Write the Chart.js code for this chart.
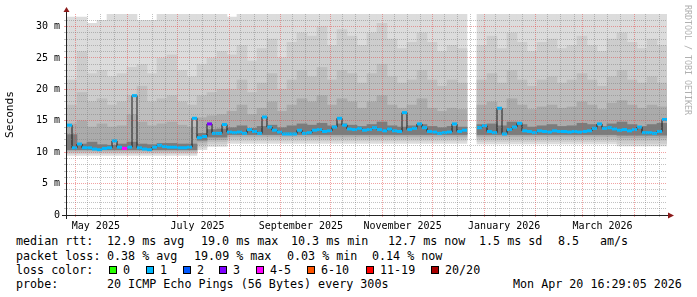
<!DOCTYPE html>
<html>
<head>
<meta charset="utf-8">
<script src="https://cdn.jsdelivr.net/npm/chart.js@4"></script>
<style>
  body { margin: 0; background: #fff; }
  #wrap { position: relative; width: 697px; height: 297px; overflow: hidden;
          font-family: 'DejaVu Sans Mono', monospace; color: #000; }
  #wrap canvas { position: absolute; left: 0; top: 0; }
  .t { position: absolute; font-size: 11.7px; line-height: 14px; white-space: pre; }
  .box { position: absolute; width: 6px; height: 6px; border: 1px solid #000; }
  #rrd { position: absolute; left: 683px; top: 5px; writing-mode: vertical-rl;
         font-size: 8.3px; line-height: 10px; color: #b0b0b0; white-space: pre; }
</style>
</head>
<body>
<div id="wrap">
  <canvas id="myChart" width="697" height="232"></canvas>
  <div id="rrd">RRDTOOL / TOBI OETIKER</div>

  <div class="t" style="left:16px;top:234px">median rtt:</div>
  <div class="t" style="left:107px;top:234px">12.9 ms avg</div>
  <div class="t" style="left:201px;top:234px">19.0 ms max</div>
  <div class="t" style="left:291px;top:234px">10.3 ms min</div>
  <div class="t" style="left:388px;top:234px">12.7 ms now</div>
  <div class="t" style="left:479px;top:234px">1.5 ms sd</div>
  <div class="t" style="left:558px;top:234px">8.5</div>
  <div class="t" style="left:600px;top:234px">am/s</div>

  <div class="t" style="left:16px;top:248.5px">packet loss:</div>
  <div class="t" style="left:107px;top:248.5px">0.38 % avg</div>
  <div class="t" style="left:194px;top:248.5px">19.09 % max</div>
  <div class="t" style="left:287px;top:248.5px">0.03 % min</div>
  <div class="t" style="left:372px;top:248.5px">0.14 % now</div>

  <div class="t" style="left:16px;top:262.5px">loss color:</div>
  <div id="lossLegend"></div>

  <div class="t" style="left:16px;top:276.5px">probe:</div>
  <div class="t" style="left:107px;top:276.5px">20 ICMP Echo Pings (56 Bytes) every 300s</div>
  <div class="t" style="left:513px;top:276.5px">Mon Apr 20 16:29:05 2026</div>
</div>
<script>
const MONO = "'DejaVu Sans Mono', monospace";

// time range: last 360 days up to the graph time
const END = Date.UTC(2026, 3, 20, 16, 29, 5);
const SPAN_DAYS = 360;
const START = END - SPAN_DAYS * 864e5;

// month grid / labels
const gridMonths = [[2025, 4], [2025, 5], [2025, 6], [2025, 7], [2025, 8], [2025, 9],
  [2025, 10], [2025, 11], [2026, 0], [2026, 1], [2026, 2], [2026, 3]];
const minorDays = [8, 16, 24];
const labelMonths = [[2025, 4], [2025, 6], [2025, 8], [2025, 10], [2026, 0], [2026, 2]];
const monthLabels = ["May 2025", "July 2025", "September 2025", "November 2025", "January 2026", "March 2026"];
const LABEL_SHIFT = 12; // rrdtool centres the month label inside the month

// median rtt in ms, one value per 3 days (null = no data)
const MED_STEP = 3;
const median = [
  14.3, 10.7, 11.3, 10.7, 10.7, 10.5, 10.4, 10.6, 10.7, 11.8,
  10.8, 10.6, 10.8, 19.0, 10.7, 10.5, 10.4, 10.8, 11.1, 10.9,
  10.8, 10.8, 10.7, 10.7, 10.8, 15.4, 12.3, 12.5, 14.5, 13.0,
  13.0, 14.4, 13.2, 13.1, 13.2, 13.0, 13.6, 13.3, 13.0, 15.6,
  14.0, 13.5, 13.2, 12.9, 12.9, 12.9, 13.5, 13.0, 13.1, 13.5,
  13.6, 13.3, 13.4, 14.0, 15.4, 14.3, 13.7, 13.6, 13.8, 13.5,
  13.6, 13.9, 13.6, 13.4, 13.7, 13.4, 13.3, 16.3, 13.6, 13.8,
  14.5, 13.9, 13.3, 13.2, 13.0, 13.1, 13.2, 14.5, 13.3, 13.5,
  null, null, 13.9, 14.2, 13.3, 13.1, 17.0, 12.9, 13.6, 14.0,
  14.6, 13.4, 13.3, 13.1, 13.4, 13.3, 13.2, 13.4, 13.3, 13.3,
  13.2, 13.3, 13.2, 13.3, 13.4, 13.8, 14.5, 13.8, 13.9, 13.7,
  13.5, 13.6, 13.4, 13.6, 14.0, 13.1, 13.1, 13.0, 13.3, 15.2
];
// bins whose loss count is not 1/20
const lossBins = [11, 28];
const lossCounts = [5, 3];

// smoke bands in ms, one value per 6 days: lo/hi of each band, A = widest
const SMOKE_STEP = 6;
const hiA = [
  31.5, 31.5, 30.5, 31.0, 32, 32, 32, 31.0, 31.0, 32, 32, 32, 32, 32, 32, 32,
  31.5, 32, 32, 32, 32, 32, 32, 32, 32, 32, 32, 32, 32, 32, 32, 32, 32, 32, 32, 32, 32, 32, 32, 32,
  null,
  32, 32, 32, 32, 32, 32, 32, 32, 32, 32, 32, 32, 32, 32, 32, 32, 32, 32, 32
];
const hiB = [
  21.5, 26.0, 22.5, 23.0, 22.0, 22.5, 23.5, 24.0, 22.5, 25.0, 25.5, 23.0, 22.0,
  24.0, 25.0, 26.0,
  25.5, 27.0, 24.5, 26.5, 28.0, 25.0, 27.5, 29.0, 28.5, 30.0, 27.0, 29.5,
  28.5, 27.0, 29.0, 30.5, 28.0, 26.5, 27.5, 29.0, 27.5, 26.0, 27.0, 26.5,
  null,
  27.0, 28.5, 26.5, 29.0, 27.5, 26.0, 27.5, 28.0, 26.5, 27.0, 28.5, 27.0, 26.0, 28.0, 29.0, 27.5, 26.5, 28.0, 27.0
];
const hiC = [
  17.5, 19.5, 18.0, 18.5, 17.5, 18.0, 19.0, 20.5, 18.0, 18.5, 19.0, 18.0, 17.5,
  19.0, 19.5, 20.0,
  20.0, 21.5, 19.5, 21.0, 22.5, 20.0, 21.5, 23.0, 22.0, 23.5, 21.5, 23.0,
  22.5, 21.0, 22.5, 24.0, 22.0, 21.0, 21.5, 23.0, 21.5, 20.5, 21.5, 21.0,
  null,
  21.5, 22.5, 21.0, 23.0, 21.5, 20.5, 21.5, 22.0, 21.0, 21.5, 22.5, 21.5, 20.5, 22.0, 23.0, 21.5, 21.0, 22.0, 21.0
];
const hiD = [
  14.5, 15.0, 14.0, 14.5, 14.0, 14.2, 16.0, 14.8, 14.2, 14.5, 14.8, 14.3, 14.0,
  15.5, 15.8, 16.0,
  16.5, 17.5, 16.0, 17.0, 18.0, 16.5, 17.5, 18.5, 18.0, 19.0, 17.5, 18.5,
  18.0, 17.0, 18.0, 19.0, 17.5, 17.0, 17.5, 18.5, 17.0, 16.5, 17.0, 16.8,
  null,
  17.5, 18.0, 17.0, 18.5, 17.5, 16.8, 17.2, 17.5, 17.0, 17.2, 18.0, 17.5, 16.8, 17.8, 18.2, 17.5, 17.0, 17.5, 17.2
];
const hiE = [
  12.8, 11.3, 11.6, 11.2, 11.1, 11.3, 11.6, 11.3, 11.2, 11.4, 11.4, 11.3, 11.3,
  13.0, 13.6, 13.7,
  13.9, 14.2, 13.8, 14.1, 14.3, 13.9, 14.2, 14.5, 14.3, 14.6, 14.2, 14.5,
  14.3, 14.1, 14.4, 14.8, 14.2, 14.0, 14.2, 14.4, 14.1, 13.9, 14.1, 14.0,
  null,
  14.4, 14.5, 14.2, 14.8, 14.4, 14.0, 14.2, 14.4, 14.1, 14.2, 14.6, 14.4, 14.1, 14.5, 14.8, 14.4, 14.1, 14.4, 14.6
];
const loA = [
  9.5, 9.5, 9.5, 9.5, 9.5, 9.5, 9.5, 9.5, 9.5, 9.5, 9.5, 9.5, 9.5,
  10.4, 10.9, 10.9,
  11.4, 11.4, 11.4, 11.4, 11.4, 11.4, 11.4, 11.4, 11.4, 11.4, 11.4, 11.4,
  11.4, 11.4, 11.4, 11.4, 11.4, 11.4, 11.4, 11.4, 11.4, 11.4, 11.4, 11.4,
  null,
  11.3, 11.3, 11.3, 11.3, 11.3, 11.3, 11.3, 11.3, 11.3, 11.3, 11.3, 11.3, 11.3, 11.3, 11.0, 11.0, 11.0, 11.0, 11.0
];
const loB = [
  9.8, 9.8, 9.8, 9.8, 9.8, 9.8, 9.8, 9.8, 9.8, 9.8, 9.8, 9.8, 9.8,
  10.8, 11.3, 11.3,
  11.8, 11.8, 11.8, 11.8, 11.8, 11.8, 11.8, 11.8, 11.8, 11.8, 11.8, 11.8,
  11.8, 11.8, 11.8, 11.8, 11.8, 11.8, 11.8, 11.8, 11.8, 11.8, 11.8, 11.8,
  null,
  11.7, 11.7, 11.7, 11.7, 11.7, 11.7, 11.7, 11.7, 11.7, 11.7, 11.7, 11.7, 11.7, 11.7, 11.4, 11.4, 11.4, 11.4, 11.4
];
const loC = [
  10.0, 10.0, 10.0, 10.0, 10.0, 10.0, 10.0, 10.0, 10.0, 10.0, 10.0, 10.0, 10.0,
  11.2, 11.7, 11.7,
  12.2, 12.2, 12.2, 12.2, 12.2, 12.2, 12.2, 12.2, 12.2, 12.2, 12.2, 12.2,
  12.2, 12.2, 12.2, 12.2, 12.2, 12.2, 12.2, 12.2, 12.2, 12.2, 12.2, 12.2,
  null,
  12.1, 12.1, 12.1, 12.1, 12.1, 12.1, 12.1, 12.1, 12.1, 12.1, 12.1, 12.1, 12.1, 12.1, 11.9, 11.9, 11.9, 11.9, 11.9
];
const loD = [
  10.2, 10.2, 10.2, 10.2, 10.2, 10.2, 10.2, 10.2, 10.2, 10.2, 10.2, 10.2, 10.2,
  11.6, 12.0, 12.0,
  12.5, 12.5, 12.5, 12.5, 12.5, 12.5, 12.5, 12.5, 12.5, 12.5, 12.5, 12.5,
  12.5, 12.5, 12.5, 12.5, 12.5, 12.5, 12.5, 12.5, 12.5, 12.5, 12.5, 12.5,
  null,
  12.5, 12.5, 12.5, 12.5, 12.5, 12.5, 12.5, 12.5, 12.5, 12.5, 12.5, 12.5, 12.5, 12.5, 12.3, 12.3, 12.3, 12.3, 12.3
];
const loE = [
  10.4, 10.4, 10.4, 10.4, 10.4, 10.4, 10.4, 10.4, 10.4, 10.4, 10.4, 10.4, 10.4,
  11.9, 12.4, 12.4,
  12.8, 12.8, 12.8, 12.8, 12.8, 12.8, 12.8, 12.8, 12.8, 12.8, 12.8, 12.8,
  12.8, 12.8, 12.8, 12.8, 12.8, 12.8, 12.8, 12.8, 12.8, 12.8, 12.8, 12.8,
  null,
  12.8, 12.8, 12.8, 12.8, 12.8, 12.8, 12.8, 12.8, 12.8, 12.8, 12.8, 12.8, 12.8, 12.8, 12.7, 12.7, 12.7, 12.7, 12.7
];

// loss color legend
const lossNames = ["0", "1", "2", "3", "4-5", "6-10", "11-19", "20/20"];
const lossColors = ["#26ff00", "#00b8ff", "#0059ff", "#7e00ff", "#ff00ff", "#ff5500", "#ff0000", "#a80000"];
const lossMax = [0, 1, 2, 3, 5, 10, 19, 20];

const legendBoxX = [109, 146, 183, 219, 256, 307, 366, 431];
const legend = document.getElementById("lossLegend");
lossNames.forEach((name, i) => {
  const b = document.createElement("div");
  b.className = "box";
  b.style.left = legendBoxX[i] + "px";
  b.style.top = "265.5px";
  b.style.background = lossColors[i];
  legend.appendChild(b);
  const t = document.createElement("div");
  t.className = "t";
  t.style.left = legendBoxX[i] + 14 + "px";
  t.style.top = "262.5px";
  t.textContent = name;
  legend.appendChild(t);
});

const lossColorFor = (n) => lossColors[lossMax.findIndex((m) => n <= m)];

// x ticks: month starts (major), minor days, label positions
const dayOf = (y, m, d) => (Date.UTC(y, m, d) - START) / 864e5;
let xTicks = [];
gridMonths.forEach(([y, m]) => {
  xTicks.push({ v: dayOf(y, m, 1), kind: "major", label: "" });
  minorDays.forEach((d) => xTicks.push({ v: dayOf(y, m, d), kind: "minor", label: "" }));
});
labelMonths.forEach(([y, m], i) => {
  xTicks.push({ v: dayOf(y, m, 1) + LABEL_SHIFT, kind: "label", label: monthLabels[i] });
});
xTicks = xTicks.filter((t) => t.v > 0 && t.v < SPAN_DAYS).sort((a, b) => a.v - b.v);

const GRID_MINOR = "rgba(120,120,120,0.45)";
const GRID_MAJOR = "rgba(230,70,70,0.5)";
const DOTS = [1, 1];

// smoke bands as floating bars
const bands = [
  { lo: loA, hi: hiA, color: "#dcdcdc", order: 10 },
  { lo: loB, hi: hiB, color: "#cdcdcd", order: 9 },
  { lo: loC, hi: hiC, color: "#bebebe", order: 8 },
  { lo: loD, hi: hiD, color: "#ababab", order: 7 },
  { lo: loE, hi: hiE, color: "#7c7c7c", order: 6 },
];
let datasets = [];
bands.forEach((b) => {
  const data = [];
  b.lo.forEach((lo, j) => {
    if (lo == null || b.hi[j] == null) return;
    data.push({ x: j * SMOKE_STEP + SMOKE_STEP / 2, y: [lo, b.hi[j]] });
  });
  datasets.push({
    type: "bar",
    xAxisID: "xs",
    data: data,
    backgroundColor: b.color,
    borderWidth: 0,
    grouped: false,
    categoryPercentage: 1,
    barPercentage: 1,
    order: b.order,
  });
});

const medianData = median.map((v, i) => ({ x: i * MED_STEP + MED_STEP / 2, y: v }));
datasets.push({
  type: "line",
  xAxisID: "x",
  data: medianData,
  borderColor: "#1a1a1a",
  borderWidth: 1,
  stepped: "middle",
  fill: false,
  spanGaps: false,
  pointStyle: "line",
  pointRadius: 2.5,
  pointBorderWidth: 3,
  pointBorderColor: (ctx) => {
    const k = lossBins.indexOf(ctx.dataIndex);
    return lossColorFor(k >= 0 ? lossCounts[k] : 1);
  },
  order: 1,
});

const axisArrows = {
  id: "axisArrows",
  afterDraw(chart) {
    const { ctx, chartArea: a } = chart;
    ctx.save();
    ctx.strokeStyle = "#222";
    ctx.lineWidth = 1;
    ctx.beginPath();
    ctx.moveTo(a.left - 5, a.bottom + 0.5);
    ctx.lineTo(a.right + 2, a.bottom + 0.5);
    ctx.moveTo(a.left - 0.5, a.bottom + 4);
    ctx.lineTo(a.left - 0.5, a.top - 3);
    ctx.stroke();
    ctx.fillStyle = "#8b1a1a";
    ctx.beginPath();
    ctx.moveTo(a.right + 1, a.bottom - 2.5);
    ctx.lineTo(a.right + 7, a.bottom + 0.5);
    ctx.lineTo(a.right + 1, a.bottom + 3.5);
    ctx.closePath();
    ctx.fill();
    ctx.beginPath();
    ctx.moveTo(a.left - 3.5, a.top - 2);
    ctx.lineTo(a.left - 0.5, a.top - 7);
    ctx.lineTo(a.left + 2.5, a.top - 2);
    ctx.closePath();
    ctx.fill();
    ctx.restore();
  },
};

Chart.defaults.font.family = MONO;

new Chart(document.getElementById("myChart"), {
  type: "bar",
  data: { datasets: datasets },
  options: {
    responsive: false,
    animation: false,
    devicePixelRatio: 1,
    events: [],
    layout: { padding: { left: 0, right: 30, top: 14, bottom: 0 } },
    plugins: { legend: { display: false }, tooltip: { enabled: false } },
    scales: {
      xs: { type: "linear", min: 0, max: SPAN_DAYS, display: false, offset: false },
      x: {
        type: "linear",
        position: "bottom",
        min: 0,
        max: SPAN_DAYS,
        offset: false,
        afterBuildTicks: (s) => { s.ticks = xTicks.map((t) => ({ value: t.v })); },
        afterFit: (s) => { s.height = 17; },
        ticks: {
          autoSkip: false, maxRotation: 0, minRotation: 0, padding: 3,
          color: "#000", font: { family: MONO, size: 10 },
          callback: (v, i) => (xTicks[i] ? xTicks[i].label : ""),
        },
        grid: {
          z: 1, offset: false, tickLength: 2, borderDash: DOTS,
          color: (ctx) => {
            const t = xTicks[ctx.index];
            if (!t || t.kind === "label") return "rgba(0,0,0,0)";
            return t.kind === "major" ? GRID_MAJOR : GRID_MINOR;
          },
          tickColor: (ctx) => {
            const t = xTicks[ctx.index];
            if (!t || t.kind === "label") return "rgba(0,0,0,0)";
            return t.kind === "major" ? GRID_MAJOR : GRID_MINOR;
          },
        },
        border: { display: false, dash: DOTS },
      },
      y: {
        type: "linear",
        min: 0,
        max: 32,
        afterBuildTicks: (s) => { s.ticks = Array.from({ length: 32 }, (_, i) => ({ value: i })); },
        afterFit: (s) => { s.width = 67; },
        ticks: {
          autoSkip: false, padding: 4, color: "#000", font: { family: MONO, size: 10 },
          callback: (v) => (v % 5 === 0 ? (v === 0 ? "0" : v + " m") : ""),
        },
        grid: {
          z: 1, tickLength: 3, borderDash: DOTS,
          color: (ctx) => {
            const v = ctx.tick ? ctx.tick.value : 0;
            if (v === 0) return "rgba(0,0,0,0)";
            return v % 5 === 0 ? GRID_MAJOR : GRID_MINOR;
          },
          tickColor: (ctx) => {
            const v = ctx.tick ? ctx.tick.value : 0;
            return v % 5 === 0 ? GRID_MAJOR : GRID_MINOR;
          },
        },
        border: { display: false, dash: DOTS },
        title: {
          display: true, text: "Seconds", color: "#000",
          font: { family: MONO, size: 11.2 }, padding: { top: 3, bottom: 0 },
        },
      },
    },
  },
  plugins: [axisArrows],
});
</script>
</body>
</html>
